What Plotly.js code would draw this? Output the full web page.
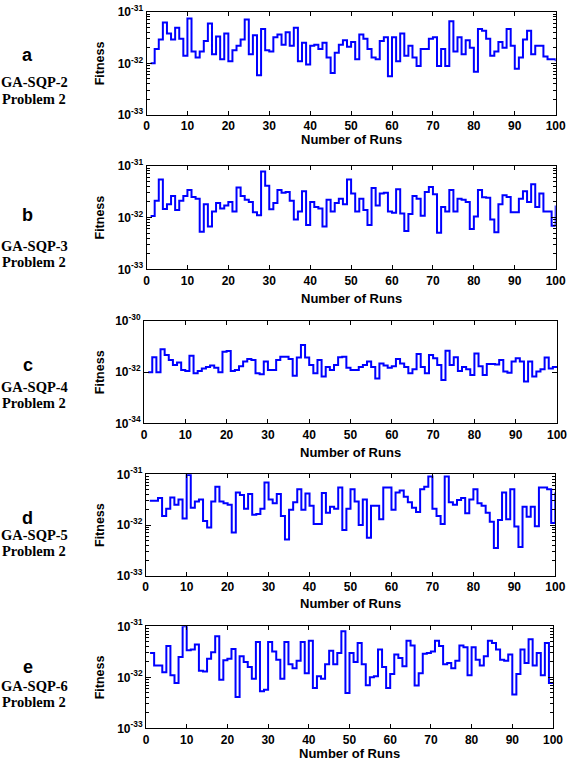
<!DOCTYPE html>
<html>
<head>
<meta charset="utf-8">
<script src="https://cdn.plot.ly/plotly-3.0.1.min.js"></script>
<style>html,body{margin:0;padding:0;background:#fff}#chart{width:568px;height:762px}</style>
</head>
<body>
<div id="chart"></div>
<script>
// ---------------- data ----------------
const runs = Array.from({length: 100}, (_, i) => i + 1);
const xTickVals = [0, 10, 20, 30, 40, 50, 60, 70, 80, 90, 100];

const fitA = [1.0e-32, 1.9e-32, 2.9e-32, 6.2e-32, 3.8e-32, 2.9e-32, 4.9e-32, 3.0e-32, 1.4e-32, 7.4e-32,
  1.7e-32, 1.3e-32, 1.7e-32, 2.7e-32, 5.9e-32, 1.5e-32, 3.3e-32, 1.2e-32, 3.8e-32, 1.1e-32,
  1.8e-32, 2.2e-32, 2.9e-32, 7.1e-32, 1.5e-32, 3.5e-32, 5.9e-33, 4.6e-32, 1.8e-32, 1.7e-32,
  3.2e-32, 3.6e-32, 2.3e-32, 4.0e-32, 2.2e-32, 4.9e-32, 1.1e-32, 2.5e-32, 9.5e-33, 2.2e-32,
  2.3e-32, 1.9e-32, 2.5e-32, 1.3e-32, 6.5e-33, 1.6e-32, 2.3e-32, 2.8e-32, 2.1e-32, 2.6e-32,
  1.2e-32, 3.6e-32, 3.0e-32, 1.9e-32, 1.3e-32, 1.2e-32, 2.7e-32, 3.2e-32, 5.6e-33, 3.2e-32,
  1.1e-32, 3.8e-32, 1.4e-32, 2.2e-32, 1.3e-32, 8.9e-33, 1.9e-32, 1.9e-32, 3.0e-32, 3.2e-32,
  8.9e-33, 1.9e-32, 8.9e-33, 6.5e-32, 1.7e-32, 3.2e-32, 1.5e-32, 2.8e-32, 2.0e-32, 6.9e-33,
  4.6e-32, 4.3e-32, 3.0e-32, 1.4e-32, 1.7e-32, 2.6e-32, 2.0e-32, 4.6e-32, 2.2e-32, 7.9e-33,
  1.3e-32, 2.9e-32, 4.3e-32, 1.5e-32, 2.2e-32, 2.2e-32, 1.35e-32, 1.2e-32, 1.2e-32, 1.1e-32];

const fitB = [1.07e-32, 2.1e-32, 5.4e-32, 1.46e-32, 1.8e-32, 2.6e-32, 1.4e-32, 2.1e-32, 2.6e-32, 3.4e-32,
  2.5e-32, 2.3e-32, 5.3e-33, 1.8e-32, 6.7e-33, 1.3e-32, 1.9e-32, 1.5e-32, 1.7e-32, 2.0e-32,
  1.3e-32, 3.8e-32, 2.6e-32, 2.2e-32, 2.0e-32, 1.26e-32, 1.1e-32, 7.7e-32, 4.1e-32, 1.44e-32,
  1.9e-32, 3.4e-32, 3.0e-32, 3.1e-32, 2.1e-32, 9.2e-33, 1.3e-32, 3.2e-32, 7.2e-33, 2.0e-32,
  1.6e-32, 1.5e-32, 6.7e-33, 2.2e-32, 1.3e-32, 1.9e-32, 2.3e-32, 1.8e-32, 5.4e-32, 2.9e-32,
  1.3e-32, 2.3e-32, 1.4e-32, 7.2e-33, 3.7e-32, 1.7e-32, 2.9e-32, 3.0e-32, 1.3e-32, 1.24e-32,
  3.5e-32, 1.2e-32, 5.5e-33, 1.17e-32, 2.6e-32, 2.3e-32, 1.08e-32, 3.1e-32, 3.9e-32, 2.8e-32,
  5.1e-33, 1.6e-32, 1.3e-32, 3.4e-32, 1.3e-32, 2.3e-32, 2.2e-32, 2.0e-32, 6.0e-33, 1.04e-32,
  3.4e-32, 2.45e-32, 2.4e-32, 9.2e-33, 5.2e-33, 1.8e-32, 2.7e-32, 2.5e-32, 1.26e-32, 1.26e-32,
  2.3e-32, 3.2e-32, 2.0e-32, 4.4e-32, 1.6e-32, 2.9e-32, 1.3e-32, 1.3e-32, 6.9e-33, 1.7e-32];

const fitC = [9.8e-33, 3.8e-32, 9.8e-33, 7.8e-32, 4.7e-32, 3.0e-32, 1.9e-32, 2.4e-32, 1.2e-32, 1.1e-32,
  4.4e-32, 9.0e-33, 1.1e-32, 1.4e-32, 1.6e-32, 1.8e-32, 1.5e-32, 9.8e-33, 6.3e-32, 6.7e-32,
  1.1e-32, 1.2e-32, 1.7e-32, 2.6e-32, 3.3e-32, 3.0e-32, 9.0e-33, 8.2e-33, 2.6e-32, 1.2e-32,
  1.2e-32, 3.0e-32, 4.0e-32, 4.0e-32, 3.3e-32, 7.3e-33, 3.7e-32, 1.15e-31, 3.7e-32, 1.9e-32,
  9.0e-33, 3.0e-32, 6.7e-33, 1.6e-32, 1.2e-32, 1.9e-32, 3.8e-32, 4.0e-32, 1.5e-32, 1.2e-32,
  1.2e-32, 1.6e-32, 1.9e-32, 2.6e-32, 1.6e-32, 5.7e-33, 2.2e-32, 1.8e-32, 1.5e-32, 1.7e-32,
  3.3e-32, 2.2e-32, 1.6e-32, 9.0e-33, 1.3e-32, 5.1e-32, 1.6e-32, 9.0e-33, 4.7e-32, 3.5e-32,
  1.9e-32, 4.9e-33, 6.9e-32, 1.9e-32, 3.8e-32, 1.1e-32, 1.6e-32, 1.3e-32, 7.7e-33, 5.4e-32,
  1.7e-32, 7.7e-33, 2.1e-32, 2.1e-32, 2.0e-32, 3.0e-32, 1.05e-32, 9.5e-33, 2.6e-32, 3.5e-32,
  2.6e-32, 4.3e-33, 2.6e-32, 6.7e-33, 1.05e-32, 1.3e-32, 3.7e-32, 1.4e-32, 1.6e-32, 1.6e-32];

const fitD = [3.0e-32, 3.0e-32, 3.4e-32, 1.5e-32, 2.1e-32, 3.5e-32, 2.5e-32, 3.2e-32, 1.35e-32, 9.7e-32,
  2.2e-32, 2.9e-32, 3.2e-32, 1.2e-32, 8.9e-33, 2.9e-32, 5.7e-32, 2.9e-32, 2.7e-32, 2.5e-32,
  7.1e-33, 4.4e-32, 3.9e-32, 2.1e-32, 4.1e-32, 1.6e-32, 1.65e-32, 2.1e-32, 6.9e-32, 3.2e-32,
  2.7e-32, 4.1e-32, 1.5e-32, 5.2e-33, 2.0e-32, 2.8e-32, 5.1e-32, 2.0e-32, 4.2e-32, 2.4e-32,
  1.05e-32, 1.05e-32, 4.3e-32, 1.75e-32, 2.3e-32, 2.1e-32, 5.5e-32, 8.0e-33, 2.1e-32, 5.1e-32,
  2.9e-32, 1.0e-32, 3.2e-32, 5.6e-33, 2.4e-32, 2.4e-32, 1.3e-32, 5.5e-32, 5.5e-32, 2.0e-32,
  4.4e-32, 4.8e-32, 3.6e-32, 2.8e-32, 2.2e-32, 1.8e-32, 5.1e-32, 5.7e-32, 9.0e-32, 2.1e-32,
  1.5e-32, 1.05e-32, 9.0e-32, 2.8e-32, 2.5e-32, 3.1e-32, 3.4e-32, 1.7e-32, 3.2e-32, 5.1e-32,
  2.7e-32, 2.4e-32, 1.75e-32, 1.16e-32, 3.5e-33, 1.26e-32, 4.4e-32, 1.3e-32, 5.1e-32, 9.3e-33,
  3.7e-33, 2.3e-32, 1.46e-32, 2.3e-32, 9.5e-33, 5.5e-32, 5.5e-32, 5.1e-32, 1.1e-32, 4.4e-32];

const fitE = [3.0e-32, 1.7e-32, 1.7e-32, 1.25e-32, 4.1e-32, 1.1e-32, 7.7e-33, 2.5e-32, 1.0e-31, 3.4e-32,
  3.5e-32, 4.4e-32, 1.35e-32, 1.3e-32, 2.3e-32, 3.1e-32, 6.4e-32, 9.0e-33, 2.15e-32, 2.3e-32,
  3.6e-32, 4.1e-33, 2.6e-32, 2.0e-32, 1.6e-32, 9.4e-33, 4.9e-32, 5.3e-33, 5.7e-33, 4.9e-32,
  3.2e-32, 2.2e-32, 9.4e-33, 4.9e-32, 1.8e-32, 1.5e-32, 2.1e-32, 4.9e-32, 1.2e-32, 5.2e-32,
  6.2e-33, 1.05e-32, 9.4e-33, 1.8e-32, 3.3e-32, 1.8e-32, 3.0e-32, 8.0e-32, 4.9e-33, 3.0e-32,
  2.0e-32, 4.7e-32, 1.8e-32, 7.0e-33, 1.0e-32, 1.05e-32, 3.5e-32, 1.6e-32, 6.2e-33, 1.16e-32,
  2.8e-32, 2.4e-32, 1.65e-32, 5.2e-32, 4.2e-32, 6.9e-33, 1.2e-32, 2.9e-32, 3.0e-32, 3.2e-32,
  5.2e-32, 4.1e-32, 1.8e-32, 1.9e-32, 1.5e-32, 2.1e-32, 4.2e-32, 3.9e-32, 1.1e-32, 3.9e-32,
  2.2e-32, 1.7e-32, 2.6e-32, 5.2e-32, 4.7e-32, 3.5e-32, 2.2e-32, 2.1e-32, 2.8e-32, 4.6e-33,
  1.16e-32, 3.5e-32, 1.9e-32, 5.6e-32, 1.7e-32, 3.0e-32, 1.1e-32, 4.7e-32, 7.7e-33, 7.7e-33];

const panelLetters = ['a', 'b', 'c', 'd', 'e'];
const methodLabels = ['GA-SQP-2', 'GA-SQP-3', 'GA-SQP-4', 'GA-SQP-5', 'GA-SQP-6'];
const problemLabel = 'Problem 2';
const yTitle = 'Fitness';
const xTitle = 'Number of Runs';

const yTickVals3 = [1e-33, 1e-32, 1e-31];
const yTickText3 = ['10<sup>-33</sup>', '10<sup>-32</sup>', '10<sup>-31</sup>'];
const yTickVals4 = [1e-34, 1e-32, 1e-30];
const yTickText4 = ['10<sup>-34</sup>', '10<sup>-32</sup>', '10<sup>-30</sup>'];

// ---------------- layout geometry (pixels) ----------------
const W = 568, H = 762;
const SANS = 'Liberation Sans, Arial, sans-serif';
const SERIF = 'Liberation Serif, Times New Roman, serif';

const panels = [
  {y: fitA, x0: 146.5, x1: 555.7, top: 11.7, bot: 115,   range: [-33, -31], tv: yTickVals3, tt: yTickText3, minor: true,
   letterY: 55, methodY: 82, probY: 98.5, xTitleY: 139},
  {y: fitB, x0: 146.5, x1: 555.7, top: 165.7, bot: 269.3, range: [-33, -31], tv: yTickVals3, tt: yTickText3, minor: true,
   letterY: 215, methodY: 246, probY: 262, xTitleY: 298},
  {y: fitC, x0: 144, x1: 557, top: 321, bot: 423.3, range: [-34, -30], tv: yTickVals4, tt: yTickText4, minor: false,
   letterY: 365, methodY: 387, probY: 403, xTitleY: 452},
  {y: fitD, x0: 145.7, x1: 555.3, top: 474.3, bot: 575.7, range: [-33, -31], tv: yTickVals3, tt: yTickText3, minor: true,
   letterY: 518, methodY: 534.5, probY: 550.5, xTitleY: 603},
  {y: fitE, x0: 146, x1: 553, top: 626.3, bot: 728.3, range: [-33, -31], tv: yTickVals3, tt: yTickText3, minor: true,
   letterY: 667, methodY: 686, probY: 702, xTitleY: 753.5}
];

const px = v => v / W;
const py = v => 1 - v / H;

const traces = [];
const layout = {
  width: W, height: H,
  margin: {l: 0, r: 0, t: 0, b: 0},
  paper_bgcolor: '#ffffff', plot_bgcolor: '#ffffff',
  showlegend: false,
  font: {family: SANS, color: '#000'},
  annotations: []
};

panels.forEach((p, i) => {
  const n = i === 0 ? '' : String(i + 1);
  layout['xaxis' + n] = {
    domain: [px(p.x0), px(p.x1)], anchor: 'y' + n,
    range: [0, 100], tickmode: 'array', tickvals: xTickVals,
    ticks: 'inside', ticklen: 4, tickwidth: 1, tickcolor: '#000',
    showline: true, linecolor: '#000', linewidth: 1, mirror: 'ticks',
    showgrid: false, zeroline: false, fixedrange: true,
    tickfont: {family: SANS, size: 12, color: '#000', weight: 'bold'}
  };
  const ya = {
    domain: [py(p.bot), py(p.top)], anchor: 'x' + n,
    type: 'log', range: p.range,
    tickmode: 'array', tickvals: p.tv, ticktext: p.tt,
    ticks: 'inside', ticklen: 5, tickwidth: 1, tickcolor: '#000',
    showline: true, linecolor: '#000', linewidth: 1, mirror: 'ticks',
    showgrid: false, zeroline: false, fixedrange: true,
    tickfont: {family: SANS, size: 12, color: '#000', weight: 'bold'}
  };
  if (p.minor) ya.minor = {ticks: 'inside', ticklen: 3, tickcolor: '#000', dtick: 'D1', showgrid: false};
  layout['yaxis' + n] = ya;

  traces.push({
    x: runs, y: p.y, xaxis: 'x' + n, yaxis: 'y' + n,
    type: 'scatter', mode: 'lines',
    line: {color: '#0000ff', width: 2, shape: 'hv'},
    hoverinfo: 'skip'
  });

  const ann = (x, y, text, font, extra) => Object.assign({
    xref: 'paper', yref: 'paper', x: px(x), y: py(y), text: text,
    showarrow: false, xanchor: 'center', yanchor: 'middle', font: font
  }, extra || {});

  layout.annotations.push(ann(28, p.letterY, panelLetters[i], {family: SANS, size: 18, color: '#000', weight: 'bold'}));
  layout.annotations.push(ann(34, p.methodY, methodLabels[i], {family: SERIF, size: 14.5, color: '#000', weight: 'bold'}));
  layout.annotations.push(ann(34, p.probY, problemLabel, {family: SERIF, size: 14.5, color: '#000', weight: 'bold'}));
  layout.annotations.push(ann(100, (p.top + p.bot) / 2, yTitle, {family: SANS, size: 12.5, color: '#000', weight: 'bold'}, {textangle: -90}));
  layout.annotations.push(ann((p.x0 + p.x1) / 2, p.xTitleY, xTitle, {family: SANS, size: 13, color: '#000', weight: 'bold'}));
});

Plotly.newPlot('chart', traces, layout, {staticPlot: true, displayModeBar: false});
</script>
</body>
</html>
